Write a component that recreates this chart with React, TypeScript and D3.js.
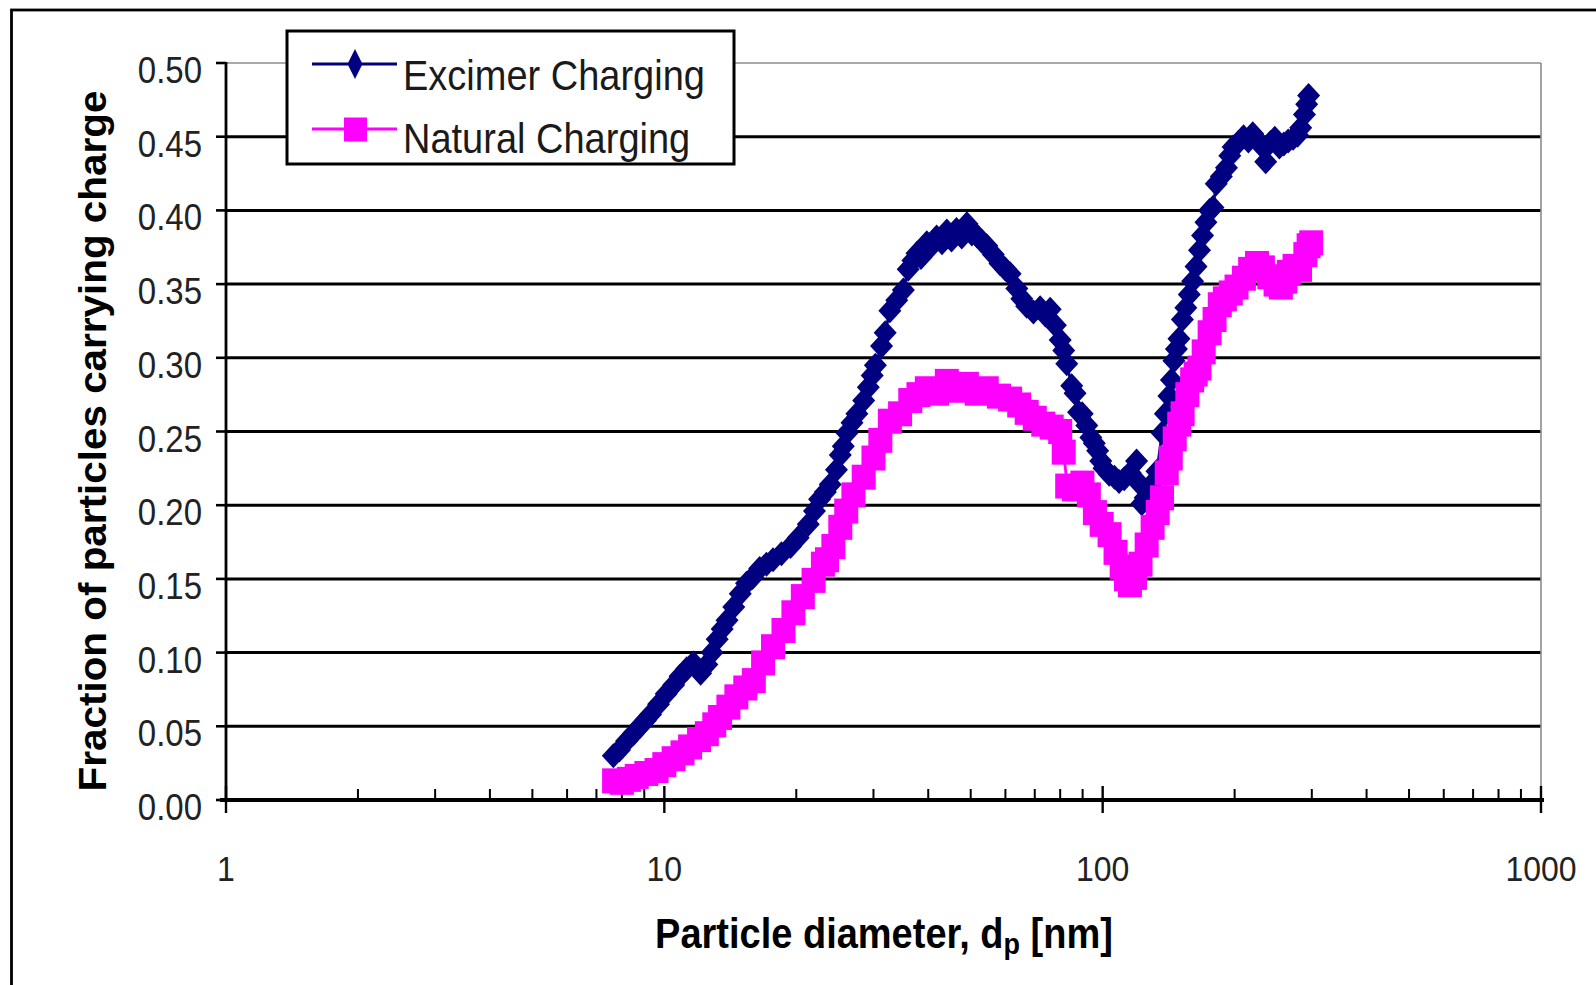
import React from "react";
import * as d3 from "d3";

const yTicks: number[] = [0, 0.05, 0.1, 0.15, 0.2, 0.25, 0.3, 0.35, 0.4, 0.45, 0.5];
const xMajor: number[] = [1, 10, 100, 1000];
const xTickLabels: string[] = ["1", "10", "100", "1000"];
const xMinorMultipliers: number[] = [2, 3, 4, 5, 6, 7, 8, 9];
const seriesNames: string[] = ["Excimer Charging", "Natural Charging"];
const seriesColors: string[] = ["#000080", "#FF00FF"];

// [particle diameter nm, fraction charged]
const excimer: [number, number][] = [
  [7.65, 0.030], [7.9, 0.034], [8.2, 0.040], [8.5, 0.045], [8.8, 0.050], [9.05, 0.054],
  [9.3, 0.058], [9.7, 0.065], [10.1, 0.072], [10.5, 0.078], [10.86, 0.084], [11.25, 0.089],
  [11.65, 0.093], [12.1, 0.086], [12.5, 0.092], [12.85, 0.100], [13.2, 0.109], [13.55, 0.116],
  [13.9, 0.122], [14.4, 0.131], [14.9, 0.140], [15.4, 0.147], [15.9, 0.151], [16.5, 0.157],
  [17.1, 0.160], [17.7, 0.163], [18.5, 0.167], [19.4, 0.172], [20.2, 0.178], [21.3, 0.187],
  [22.0, 0.196], [22.6, 0.204], [23.3, 0.209], [23.9, 0.214], [24.7, 0.224], [25.2, 0.234],
  [25.6, 0.240], [26.1, 0.249], [26.8, 0.256], [27.5, 0.262], [28.5, 0.271], [29.2, 0.280],
  [29.8, 0.288], [30.3, 0.295], [31.3, 0.308], [31.9, 0.317], [32.7, 0.332], [33.9, 0.339],
  [35.1, 0.346], [36.0, 0.360], [36.9, 0.366], [37.7, 0.371], [38.5, 0.368], [39.7, 0.378],
  [40.7, 0.376], [41.8, 0.382], [43.0, 0.378], [44.1, 0.386], [45.2, 0.380], [46.4, 0.387],
  [47.7, 0.382], [49.0, 0.391], [50.3, 0.384], [51.6, 0.383], [53.0, 0.379], [54.4, 0.376],
  [56.3, 0.370], [58.3, 0.364], [60.0, 0.360], [61.5, 0.357], [63.7, 0.347], [65.4, 0.340],
  [67.1, 0.335], [69.5, 0.331], [72.0, 0.334], [74.0, 0.329], [75.9, 0.333], [78.0, 0.322],
  [80.0, 0.312], [81.5, 0.305], [82.8, 0.296], [85.0, 0.281], [86.5, 0.276], [88.1, 0.263],
  [89.8, 0.262], [92.0, 0.254], [94.0, 0.246], [95.7, 0.242], [97.4, 0.237], [99.0, 0.230],
  [100.7, 0.225], [103.5, 0.221], [106.4, 0.219], [109.0, 0.216], [112.0, 0.218], [115.5, 0.222],
  [119.5, 0.230], [121.0, 0.215], [122.8, 0.201], [125.0, 0.205], [127.0, 0.209], [130.0, 0.215],
  [133.0, 0.223], [136.6, 0.249], [139.0, 0.262], [141.6, 0.274], [143.5, 0.285], [145.4, 0.298],
  [147.3, 0.306], [149.3, 0.313], [152.0, 0.326], [154.8, 0.334], [157.6, 0.343], [160.4, 0.352],
  [163.3, 0.362], [166.3, 0.373], [169.0, 0.383], [172.0, 0.392], [175.3, 0.400], [178.5, 0.402],
  [181.6, 0.418], [186.5, 0.423], [191.6, 0.429], [195.0, 0.437], [198.4, 0.443], [204.0, 0.446],
  [209.6, 0.450], [215.0, 0.447], [220.0, 0.452], [225.0, 0.448], [230.0, 0.444], [235.5, 0.433],
  [241.5, 0.446], [247.0, 0.449], [253.0, 0.443], [259.0, 0.445], [265.0, 0.447], [272.0, 0.449],
  [278.4, 0.451], [283.0, 0.456], [288.6, 0.465], [292.0, 0.472], [295.0, 0.478],
];

const natural: [number, number][] = [
  [7.68, 0.013], [8.0, 0.012], [8.3, 0.014], [8.65, 0.016], [9.1, 0.018], [9.6, 0.020],
  [10.0, 0.024], [10.5, 0.028], [11.0, 0.032], [11.45, 0.036], [12.0, 0.041], [12.5, 0.045],
  [13.0, 0.051], [13.4, 0.056], [14.0, 0.063], [14.6, 0.070], [15.3, 0.076], [16.0, 0.081],
  [16.8, 0.093], [17.7, 0.104], [18.7, 0.115], [19.7, 0.127], [20.7, 0.138], [21.9, 0.149],
  [23.0, 0.160], [23.5, 0.163], [24.3, 0.172], [25.2, 0.185], [26.0, 0.196], [27.0, 0.207],
  [28.5, 0.219], [30.0, 0.232], [31.1, 0.244], [32.7, 0.257], [34.5, 0.262], [36.4, 0.271],
  [38.0, 0.275], [39.7, 0.279], [41.9, 0.276], [44.1, 0.284], [46.5, 0.278], [49.0, 0.282],
  [51.6, 0.276], [54.4, 0.279], [58.0, 0.274], [61.5, 0.272], [64.5, 0.268], [67.1, 0.263],
  [70.0, 0.259], [73.2, 0.255], [76.5, 0.253], [80.0, 0.250], [81.5, 0.236], [83.0, 0.213],
  [86.0, 0.211], [89.9, 0.215], [93.0, 0.207], [96.0, 0.195], [99.5, 0.187], [103.7, 0.180],
  [107.0, 0.168], [110.5, 0.158], [113.0, 0.150], [115.4, 0.146], [118.5, 0.151], [122.0, 0.160],
  [126.0, 0.173], [130.0, 0.185], [133.5, 0.195], [136.6, 0.205], [140.0, 0.222], [143.0, 0.232],
  [146.0, 0.245], [149.5, 0.255], [152.2, 0.262], [156.0, 0.275], [160.0, 0.285], [163.0, 0.289],
  [166.3, 0.293], [170.0, 0.304], [175.4, 0.317], [180.0, 0.326], [185.0, 0.336], [190.0, 0.340],
  [196.0, 0.344], [202.0, 0.348], [210.0, 0.354], [217.0, 0.360], [225.0, 0.364], [232.0, 0.361],
  [240.0, 0.355], [248.0, 0.350], [255.0, 0.348], [261.0, 0.352], [266.0, 0.358], [274.0, 0.362],
  [282.0, 0.360], [290.0, 0.370], [295.0, 0.376], [299.0, 0.378],
];

const FONT = "'Liberation Sans', Arial, Helvetica, sans-serif";
const STRETCH = 1.1;

export default function App() {
  const W = 1596;
  const H = 985;
  const x = d3.scaleLog().domain([1, 1000]).range([226, 1541]);
  const y = d3.scaleLinear().domain([0, 0.5]).range([800, 63]);
  const line = d3
    .line<[number, number]>()
    .x((d) => x(d[0]))
    .y((d) => y(d[1]));

  const minorTicks: number[] = [];
  [1, 10, 100].forEach((dec) => xMinorMultipliers.forEach((m) => minorTicks.push(m * dec)));

  const fmt = d3.format(".2f");
  const diamond = "M0,-12.5L11.5,0L0,12.5L-11.5,0Z";
  const sqW = 12;
  const sqH = 12.5;

  const x0 = x(1);
  const x1 = x(1000);

  return (
    <svg
      width={W}
      height={H}
      style={{ position: "absolute", left: 0, top: 0, background: "#fff" }}
      xmlns="http://www.w3.org/2000/svg"
    >
      <rect x={0} y={0} width={W} height={H} fill="#fff" />
      {/* outer frame */}
      <rect x={11.5} y={10} width={W + 40} height={H + 40} fill="none" stroke="#000" strokeWidth={2.8} />

      {/* gridlines */}
      {yTicks.filter((t) => t > 0 && t < 0.5).map((t) => (
        <line key={"g" + t} x1={x0} x2={x1} y1={y(t)} y2={y(t)} stroke="#000" strokeWidth={3} />
      ))}
      {/* plot area border (top/right) */}
      <line x1={x0} x2={x1} y1={y(0.5)} y2={y(0.5)} stroke="#8c8c8c" strokeWidth={1.6} />
      <line x1={x1} x2={x1} y1={y(0.5)} y2={y(0)} stroke="#8c8c8c" strokeWidth={1.6} />

      {/* y axis */}
      <line x1={x0} x2={x0} y1={y(0.5) - 1} y2={y(0)} stroke="#000" strokeWidth={2.8} />
      {yTicks.map((t) => (
        <g key={"yt" + t}>
          <line x1={x0 - 10} x2={x0} y1={y(t)} y2={y(t)} stroke="#000" strokeWidth={2.6} />
          <text
            transform={`translate(202,${y(t) + 7}) scale(1,${STRETCH})`}
            dy="0.36em"
            textAnchor="end"
            fontFamily={FONT}
            fontSize={33}
            fill="#222"
          >
            {fmt(t)}
          </text>
        </g>
      ))}

      {/* x axis */}
      <line x1={x0 - 6} x2={x1 + 3} y1={y(0)} y2={y(0)} stroke="#000" strokeWidth={3.8} />
      {minorTicks.map((t) => (
        <line key={"mt" + t} x1={x(t)} x2={x(t)} y1={y(0) - 11} y2={y(0)} stroke="#000" strokeWidth={2} />
      ))}
      {xMajor.map((t, i) => (
        <g key={"xt" + t}>
          <line x1={x(t)} x2={x(t)} y1={y(0) - 14} y2={y(0) + 13} stroke="#000" strokeWidth={2.4} />
          <text
            transform={`translate(${x(t)},881) scale(1,${STRETCH})`}
            textAnchor="middle"
            fontFamily={FONT}
            fontSize={32}
            fill="#222"
          >
            {xTickLabels[i]}
          </text>
        </g>
      ))}

      {/* series: Excimer */}
      <path d={line(excimer) || ""} fill="none" stroke={seriesColors[0]} strokeWidth={2.8} />
      {excimer.map((d, i) => (
        <path key={"e" + i} d={diamond} transform={`translate(${x(d[0])},${y(d[1])})`} fill={seriesColors[0]} />
      ))}

      {/* series: Natural */}
      <path d={line(natural) || ""} fill="none" stroke={seriesColors[1]} strokeWidth={2.8} />
      {natural.map((d, i) => (
        <rect
          key={"n" + i}
          x={x(d[0]) - sqW}
          y={y(d[1]) - sqH}
          width={sqW * 2}
          height={sqH * 2}
          fill={seriesColors[1]}
        />
      ))}

      {/* legend */}
      <rect x={287} y={31} width={447} height={133} fill="#fff" stroke="#000" strokeWidth={3} />
      <line x1={312} x2={397} y1={64} y2={64} stroke={seriesColors[0]} strokeWidth={3} />
      <path d="M0,-15L7.5,0L0,15L-7.5,0Z" transform="translate(355,64)" fill={seriesColors[0]} />
      <text
        transform={`translate(403,90) scale(1,${STRETCH})`}
        fontFamily={FONT}
        fontSize={38}
        fill="#1a1a1a"
      >
        {seriesNames[0]}
      </text>
      <line x1={312} x2={397} y1={129} y2={129} stroke={seriesColors[1]} strokeWidth={3} />
      <rect x={344} y={117.5} width={23} height={24} fill={seriesColors[1]} />
      <text
        transform={`translate(403,153) scale(1,${STRETCH})`}
        fontFamily={FONT}
        fontSize={38}
        fill="#1a1a1a"
      >
        {seriesNames[1]}
      </text>

      {/* axis titles */}
      <text
        transform={`translate(884,948) scale(1,${STRETCH})`}
        textAnchor="middle"
        fontFamily={FONT}
        fontSize={38}
        fontWeight="bold"
        fill="#000"
      >
        Particle diameter, d
        <tspan fontSize={27} dy={5}>p</tspan>
        <tspan dy={-5}> [nm]</tspan>
      </text>
      <text
        transform="translate(106,441) rotate(-90) scale(1.05,1)"
        textAnchor="middle"
        fontFamily={FONT}
        fontSize={38.5}
        fontWeight="bold"
        fill="#000"
      >
        Fraction of particles carrying charge
      </text>
    </svg>
  );
}
